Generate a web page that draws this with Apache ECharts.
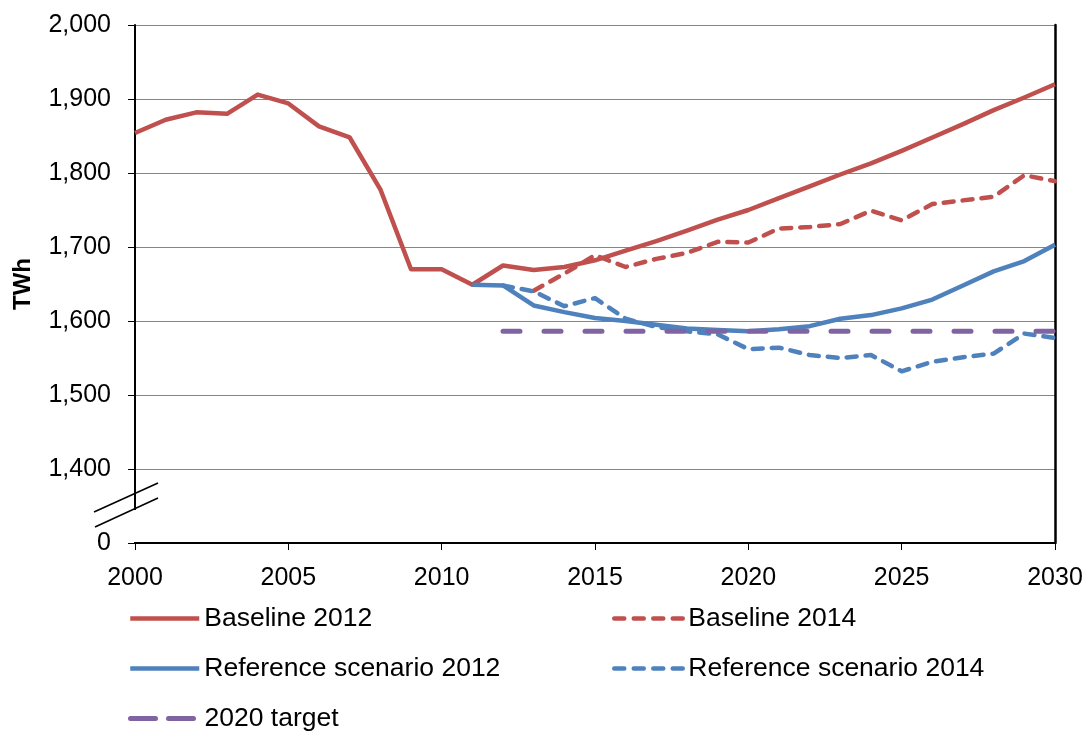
<!DOCTYPE html>
<html>
<head>
<meta charset="utf-8">
<script src="https://cdn.jsdelivr.net/npm/echarts@6/dist/echarts.min.js"></script>
<style>
html,body{margin:0;padding:0;background:#fff;}
#main{width:1087px;height:733px;}
</style>
</head>
<body>
<div id="main"></div>
<script>
// ---- Data ----
const baseline2012Years = [2000,2001,2002,2003,2004,2005,2006,2007,2008,2009,2010,2011,2012,2013,2014,2015,2016,2017,2018,2019,2020,2021,2022,2023,2024,2025,2026,2027,2028,2029,2030];
const baseline2012Values = [1854,1872,1882,1880,1906,1894,1863,1848,1778,1670,1670,1649,1675,1669,1673,1682,1695,1708,1722,1737,1750,1766,1782,1798,1813,1830,1848,1866,1885,1902,1920];

const baseline2014Years = [2013,2014,2015,2016,2017,2018,2019,2020,2021,2022,2023,2024,2025,2026,2027,2028,2029,2030];
const baseline2014Values = [1641,1664,1689,1673,1684,1692,1707,1706,1725,1727,1731,1749,1736,1758,1763,1768,1797,1789];

const reference2012Years = [2011,2012,2013,2014,2015,2016,2017,2018,2019,2020,2021,2022,2023,2024,2025,2026,2027,2028,2029,2030];
const reference2012Values = [1649,1648,1621,1612,1604,1600,1595,1590,1588,1586,1589,1593,1603,1608,1617,1629,1648,1667,1681,1703];

const reference2014Years = [2012,2013,2014,2015,2016,2017,2018,2019,2020,2021,2022,2023,2024,2025,2026,2027,2028,2029,2030];
const reference2014Values = [1648,1640,1620,1631,1603,1592,1586,1582,1562,1564,1554,1550,1554,1532,1545,1551,1556,1583,1577];

const targetYears = [2012, 2030];
const targetValues = [1586, 1586];

const seriesNames = ['Baseline 2012','Baseline 2014','Reference scenario 2012','Reference scenario 2014','2020 target'];
const yAxisName = 'TWh';
const axisBreakValue = 1300; // shown as "0" (broken axis)

// ---- Helpers ----
const pairs = (xs, ys) => xs.map((x, i) => [x, ys[i]]);
const FONT = "'Liberation Sans', Arial, sans-serif";
const RED = '#C0504D', BLUE = '#4F81BD', PURPLE = '#8064A2';

const chart = echarts.init(document.getElementById('main'), null, {renderer: 'canvas'});

function legendAt(name, left, top, color, dash, width) {
  return {
    data: [name],
    left: left, top: top,
    orient: 'horizontal',
    padding: 0,
    itemWidth: 69, itemHeight: 26,
    selectedMode: false,
    textStyle: {fontFamily: FONT, fontSize: 26.5, color: '#000', lineHeight: 26},
    itemStyle: {color: 'rgba(0,0,0,0)', borderWidth: 0, opacity: 0},
    lineStyle: {color: color, width: width || 4.5, type: dash || 'solid', cap: dash ? 'round' : 'butt'}
  };
}

const option = {
  animation: false,
  backgroundColor: '#fff',
  grid: {left: 135, right: 32, top: 25, bottom: 190, containLabel: false},
  legend: [
    legendAt(seriesNames[0], 128, 605, RED),
    legendAt(seriesNames[1], 612, 605, RED, [10, 9.5]),
    legendAt(seriesNames[2], 128, 655, BLUE),
    legendAt(seriesNames[3], 612, 655, BLUE, [10, 9.5]),
    legendAt(seriesNames[4], 128, 705, PURPLE, [25, 13], 5)
  ],
  xAxis: {
    type: 'value', min: 2000, max: 2030, interval: 5,
    axisLine: {show: true, lineStyle: {color: '#000', width: 2}},
    axisTick: {show: true, length: 7, inside: false, lineStyle: {color: '#000', width: 1}},
    axisLabel: {fontFamily: FONT, fontSize: 25, color: '#000', margin: 23,
      formatter: v => String(v)},
    splitLine: {show: false}
  },
  yAxis: [{
    type: 'value', min: axisBreakValue, max: 2000, interval: 100,
    name: yAxisName, nameLocation: 'middle', nameGap: 100, nameRotate: 90,
    nameTextStyle: {fontFamily: FONT, fontSize: 24, fontWeight: 'bold', color: '#000'},
    axisLine: {show: true, onZero: false, lineStyle: {color: '#000', width: 2}},
    axisTick: {show: true, length: 7, lineStyle: {color: '#000', width: 1}},
    axisLabel: {fontFamily: FONT, fontSize: 25, color: '#000', margin: 24,
      formatter: v => v === axisBreakValue ? '0' : v.toLocaleString('en-US')},
    splitLine: {show: true, lineStyle: {color: '#858585', width: 1}}
  }, {
    type: 'value', min: axisBreakValue, max: 2000, interval: 100, position: 'right',
    axisLine: {show: true, onZero: false, lineStyle: {color: '#000', width: 2.5}},
    axisTick: {show: false}, axisLabel: {show: false}, splitLine: {show: false}
  }],
  series: [
    {name: seriesNames[0], type: 'line', data: pairs(baseline2012Years, baseline2012Values),
     symbol: 'none', color: RED, lineStyle: {color: RED, width: 4.5, join: 'round'}},
    {name: seriesNames[1], type: 'line', data: pairs(baseline2014Years, baseline2014Values),
     symbol: 'none', color: RED, lineStyle: {color: RED, width: 4.5, type: [10, 9], cap: 'round', join: 'round'}},
    {name: seriesNames[2], type: 'line', data: pairs(reference2012Years, reference2012Values),
     symbol: 'none', color: BLUE, lineStyle: {color: BLUE, width: 4.5, join: 'round'}},
    {name: seriesNames[3], type: 'line', data: pairs(reference2014Years, reference2014Values),
     symbol: 'none', color: BLUE, lineStyle: {color: BLUE, width: 4.5, type: [10, 9], cap: 'round', join: 'round'}},
    {name: seriesNames[4], type: 'line', data: pairs(targetYears, targetValues),
     symbol: 'none', color: PURPLE, lineStyle: {color: PURPLE, width: 5, type: [17, 24], cap: 'round'}}
  ]
};
chart.setOption(option);

// axis break marks, positioned relative to the axis scale
const p = chart.convertToPixel({xAxisIndex: 0, yAxisIndex: 0}, [2000, 1350]);
const pBottom = chart.convertToPixel({xAxisIndex: 0, yAxisIndex: 0}, [2000, axisBreakValue]);
chart.setOption({
  graphic: [
    {type: 'rect', z: 100, shape: {x: p[0] - 3, y: p[1] + 4, width: 6, height: pBottom[1] - p[1] - 5},
     style: {fill: '#fff'}},
    {type: 'line', z: 101, shape: {x1: p[0] - 41, y1: p[1] + 6, x2: p[0] + 23, y2: p[1] - 23},
     style: {stroke: '#000', lineWidth: 1.5}},
    {type: 'line', z: 101, shape: {x1: p[0] - 40, y1: p[1] + 21, x2: p[0] + 23, y2: p[1] - 8},
     style: {stroke: '#000', lineWidth: 1.5}}
  ]
});
</script>
</body>
</html>
